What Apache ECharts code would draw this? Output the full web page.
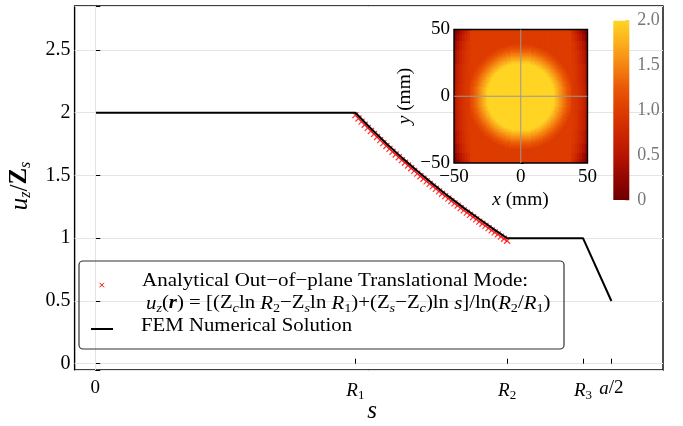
<!DOCTYPE html>
<html>
<head>
<meta charset="utf-8">
<script src="https://cdn.jsdelivr.net/npm/echarts@6/dist/echarts.min.js"></script>
<style>
  html, body { margin: 0; padding: 0; background: #fff; }
  #chart { width: 683px; height: 426px; }
</style>
</head>
<body>
<div id="chart"></div>
<script>
const SERIF = '"Liberation Serif", "DejaVu Serif", serif';

// Radial positions marked on the s axis (mm)
const sTickValues = [0, 25.2, 39.9, 47.25, 50];
const sTickLabels = ['{n|0}', '{i|R}{sub|1}', '{i|R}{sub|2}', '{i|R}{sub|3}', '{i|a}{n|/2}'];

// FEM numerical solution u_z/Z_s along s
const femS = [0, 25.2, 26.7, 28.2, 29.7, 31.2, 32.7, 34.2, 35.7, 37.2, 38.7, 39.9, 47.25, 50];
const femU = [2, 2, 1.874, 1.755, 1.642, 1.535, 1.433, 1.335, 1.242, 1.153, 1.066, 1.0, 1.0, 0.5];

// Analytical out-of-plane translational mode samples
const anaS = [25.2, 25.5, 25.8, 26.1, 26.4, 26.7, 27.0, 27.3, 27.6, 27.9, 28.2, 28.5, 28.8, 29.1, 29.4,
  29.7, 30.0, 30.3, 30.6, 30.9, 31.2, 31.5, 31.8, 32.1, 32.4, 32.7, 33.0, 33.3, 33.6, 33.9, 34.2, 34.5,
  34.8, 35.1, 35.4, 35.7, 36.0, 36.3, 36.6, 36.9, 37.2, 37.5, 37.8, 38.1, 38.4, 38.7, 39.0, 39.3, 39.6, 39.9];
const anaU = [1.980, 1.954, 1.929, 1.904, 1.879, 1.854, 1.830, 1.806, 1.782, 1.758, 1.735, 1.712, 1.689,
  1.667, 1.645, 1.622, 1.601, 1.579, 1.557, 1.536, 1.515, 1.494, 1.474, 1.453, 1.433, 1.413, 1.393, 1.373,
  1.354, 1.335, 1.315, 1.296, 1.278, 1.259, 1.240, 1.222, 1.204, 1.186, 1.168, 1.150, 1.132, 1.115, 1.098,
  1.080, 1.063, 1.046, 1.030, 1.013, 0.996, 0.980];

// Inset field: radial displacement profile (r in mm)
const ringR = [25, 26, 27, 28, 29, 30, 31, 32, 33, 34, 35, 36, 37, 38, 39, 40];
const ringU = [2.0, 1.932, 1.850, 1.771, 1.694, 1.621, 1.549, 1.480, 1.413, 1.348, 1.285, 1.224, 1.164, 1.106, 1.050, 1.0];

// Inset field: attenuation near the x = ±a/2 edges (rows: |y| bands, cols: |x| bands, upper bounds in mm)
const edgeXBins = [40, 42, 44, 46, 47.5, 49, 50];
const edgeYBins = [10, 25, 35, 42, 47, 50];
const edgeU = [
  [0.98, 0.94, 0.88, 0.80, 0.70, 0.56, 0.42],
  [0.97, 0.93, 0.86, 0.77, 0.66, 0.52, 0.37],
  [0.95, 0.90, 0.82, 0.71, 0.58, 0.43, 0.29],
  [0.92, 0.85, 0.75, 0.62, 0.48, 0.33, 0.20],
  [0.86, 0.77, 0.64, 0.50, 0.36, 0.22, 0.11],
  [0.80, 0.68, 0.54, 0.40, 0.26, 0.14, 0.05]
];

// Colour scale (value 0 → 2)
const heatColors = ['#6e0000', '#940600', '#b81600', '#cc2800', '#dd3c00', '#ea5806', '#f48412', '#fbae1c', '#ffd424'];

function ringLookup(r) {
  if (r <= ringR[0]) return ringU[0];
  if (r >= ringR[ringR.length - 1]) return ringU[ringU.length - 1];
  let best = 0;
  for (let i = 1; i < ringR.length; i++) {
    if (Math.abs(ringR[i] - r) < Math.abs(ringR[best] - r)) best = i;
  }
  return ringU[best];
}
function edgeLookup(ax, ay) {
  if (ax <= edgeXBins[0] - 2) return Infinity;
  let c = edgeXBins.findIndex(b => ax <= b);
  let r = edgeYBins.findIndex(b => ay <= b);
  if (c < 0) c = edgeXBins.length - 1;
  if (r < 0) r = edgeYBins.length - 1;
  return edgeU[r][c];
}

// cell table for the inset (1 mm cells)
const fieldCells = [];
for (let i = 0; i < 100; i++) {
  for (let j = 0; j < 100; j++) {
    const x = -49.5 + i, y = -49.5 + j;
    const r = Math.hypot(x, y);
    const u = Math.min(ringLookup(r), edgeLookup(Math.abs(x), Math.abs(y)));
    fieldCells.push([x, y, u]);
  }
}

const rich = {
  n: { fontFamily: SERIF, fontSize: 19, color: '#000', verticalAlign: 'middle' },
  i: { fontFamily: SERIF, fontSize: 19, fontStyle: 'italic', color: '#000', verticalAlign: 'middle' },
  bi: { fontFamily: SERIF, fontSize: 19, fontStyle: 'italic', fontWeight: 'bold', color: '#000', verticalAlign: 'middle' },
  b: { fontFamily: SERIF, fontSize: 19, fontWeight: 'bold', color: '#000', verticalAlign: 'middle' },
  sub: { fontFamily: SERIF, fontSize: 13, color: '#000', padding: [10, 0, 0, 0], verticalAlign: 'middle' },
  subi: { fontFamily: SERIF, fontSize: 13, fontStyle: 'italic', color: '#000', padding: [10, 0, 0, 0], verticalAlign: 'middle' }
};
const bigRich = {
  i: { fontFamily: SERIF, fontSize: 25, fontStyle: 'italic', color: '#000', verticalAlign: 'middle' },
  n: { fontFamily: SERIF, fontSize: 25, color: '#000', verticalAlign: 'middle' },
  b: { fontFamily: SERIF, fontSize: 25, fontWeight: 'bold', color: '#000', verticalAlign: 'middle' },
  sub: { fontFamily: SERIF, fontSize: 16, fontStyle: 'italic', color: '#000', padding: [12, 0, 0, 0], verticalAlign: 'middle' }
};

const sLabelMap = {};
sTickValues.forEach((v, k) => { sLabelMap[v] = sTickLabels[k]; });
const minus = v => String(v).replace('-', '\u2212');

const fieldRender = (params, api) => {
  const p = api.coord([api.value(0) - 0.5, api.value(1) + 0.5]);
  const sz = api.size([1, 1]);
  return { type: 'rect', shape: { x: p[0], y: p[1], width: sz[0] + 0.8, height: sz[1] + 0.8 },
    style: { fill: api.visual('color') } };
};

const barGradient = new echarts.graphic.LinearGradient(0, 0, 0, 1,
  heatColors.slice().reverse().map((c, k) => ({ offset: k / (heatColors.length - 1), color: c })));

const chart = echarts.init(document.getElementById('chart'), null, { renderer: 'canvas' });
chart.setOption({
  animation: false,
  backgroundColor: '#fff',
  grid: [
    { left: 74.6, right: 20, top: 6, bottom: 56, show: true, borderColor: '#000', borderWidth: 1.4,
      backgroundColor: 'transparent', containLabel: false },
    { left: 454, top: 29.5, width: 133.5, height: 133.5, show: true, borderColor: '#000', borderWidth: 1.4,
      backgroundColor: 'transparent', containLabel: false, z: 5 },
    { left: 613.3, top: 20.7, width: 16, height: 179.3, show: false, containLabel: false }
  ],
  xAxis: [
    { gridIndex: 0, type: 'value', min: -2, max: 55,
      axisLine: { show: false },
      axisTick: { show: true, inside: true, length: 5, customValues: sTickValues, lineStyle: { color: '#000', width: 1 } },
      axisLabel: { customValues: sTickValues, margin: 9, formatter: v => sLabelMap[v] || '', rich: rich },
      splitLine: { show: false } },
    { gridIndex: 1, type: 'value', min: -50, max: 50, interval: 50,
      axisLine: { show: false },
      axisTick: { show: true, inside: true, length: 3, lineStyle: { color: '#000' } },
      axisLabel: { margin: 5, fontFamily: SERIF, fontSize: 19, color: '#000', formatter: minus },
      splitLine: { show: false } },
    { gridIndex: 2, type: 'value', min: 0, max: 1, show: false }
  ],
  yAxis: [
    { gridIndex: 0, type: 'value', min: -0.05, max: 2.85, splitNumber: 6,
      axisLine: { show: false },
      axisTick: { show: true, inside: true, length: 5, lineStyle: { color: '#000' } },
      axisLabel: { margin: 4, fontFamily: SERIF, fontSize: 20, color: '#000',
        formatter: v => (Math.abs(v * 2 - Math.round(v * 2)) < 1e-6 ? String(v) : '') },
      splitLine: { show: true, lineStyle: { color: '#e4e4e4', width: 1 } } },
    { gridIndex: 1, type: 'value', min: -50, max: 50, interval: 50,
      axisLine: { show: false },
      axisTick: { show: true, inside: true, length: 3, lineStyle: { color: '#000' } },
      axisLabel: { margin: 4, fontFamily: SERIF, fontSize: 19, color: '#000', formatter: minus },
      splitLine: { show: false } },
    { gridIndex: 2, type: 'value', min: 0, max: 2, interval: 0.5, position: 'right',
      axisLine: { show: false, onZero: false },
      axisTick: { show: true, inside: true, length: 4, lineStyle: { color: '#f0c8b0' } },
      minorTick: { show: true, splitNumber: 5, length: 2, lineStyle: { color: '#f0d0bc' } },
      axisLabel: { margin: 8, fontFamily: SERIF, fontSize: 18, color: '#777',
        formatter: v => (v === 0 ? '0' : v.toFixed(1)) },
      splitLine: { show: false } }
  ],
  visualMap: [{
    type: 'continuous', show: false, min: 0, max: 2, dimension: 2, seriesIndex: [1],
    inRange: { color: heatColors }
  }],
  series: [
    { type: 'line', name: 'grid0', xAxisIndex: 0, yAxisIndex: 0, data: [[0, 2]], showSymbol: false, silent: true,
      markLine: { silent: true, symbol: 'none', label: { show: false },
        lineStyle: { color: '#e4e4e4', width: 1, type: 'solid' }, data: [{ xAxis: 0 }] } },
    { type: 'custom', name: 'field', xAxisIndex: 1, yAxisIndex: 1, data: fieldCells, clip: true,
      progressive: 0, renderItem: fieldRender, encode: { x: 0, y: 1 }, silent: true, z: 3 },
    { type: 'line', name: 'cbAxis', xAxisIndex: 2, yAxisIndex: 2, data: [], silent: true, z: 8 },
    { type: 'line', name: 'crossX', xAxisIndex: 1, yAxisIndex: 1, data: [[-50, 0], [50, 0]],
      showSymbol: false, silent: true, lineStyle: { color: '#999', width: 1 }, z: 6 },
    { type: 'line', name: 'crossY', xAxisIndex: 1, yAxisIndex: 1, data: [[0, -50], [0, 50]],
      showSymbol: false, silent: true, lineStyle: { color: '#999', width: 1 }, z: 6 },
    { type: 'scatter', name: 'Analytical', xAxisIndex: 0, yAxisIndex: 0,
      data: anaS.map((s, k) => [s, anaU[k]]),
      symbol: 'path://M0,0L10,10M10,0L0,10', symbolSize: 6,
      itemStyle: { color: 'none', borderColor: '#ff0000', borderWidth: 1.2 }, z: 2 },
    { type: 'line', name: 'FEM', xAxisIndex: 0, yAxisIndex: 0,
      data: femS.map((s, k) => [s, femU[k]]),
      showSymbol: false, lineStyle: { color: '#000', width: 2 }, z: 3 }
  ],
  graphic: [
    // colour bar
    { type: 'rect', shape: { x: 613.3, y: 20.7, width: 16, height: 179.3 }, style: { fill: barGradient }, z: 1 },
    // axis titles
    { type: 'text', x: 372, y: 411, style: { text: 's', font: 'italic 25px ' + SERIF, fill: '#000', align: 'center', verticalAlign: 'middle' } },
    { type: 'text', x: 20, y: 186, rotation: Math.PI / 2,
      style: { text: '{i|u}{sub|z}{n|/}{b|Z}{sub|s}', rich: bigRich, align: 'center', verticalAlign: 'middle' } },
    // inset titles
    { type: 'text', x: 520.5, y: 200, scaleX: 1.08, style: { text: '{i|x}{n| (mm)}', rich: {
      i: { fontFamily: SERIF, fontSize: 18, fontStyle: 'italic', color: '#000' },
      n: { fontFamily: SERIF, fontSize: 18, color: '#000' } }, align: 'center', verticalAlign: 'middle' } },
    { type: 'text', x: 405, y: 96, rotation: Math.PI / 2, scaleX: 1.08, style: { text: '{i|y}{n| (mm)}', rich: {
      i: { fontFamily: SERIF, fontSize: 18, fontStyle: 'italic', color: '#000' },
      n: { fontFamily: SERIF, fontSize: 18, color: '#000' } }, align: 'center', verticalAlign: 'middle' } },
    // legend
    { type: 'rect', shape: { x: 79, y: 261, width: 485, height: 88, r: 4 },
      style: { fill: 'none', stroke: '#333', lineWidth: 1.2 }, z: 10 },
    { type: 'line', shape: { x1: 99.5, y1: 282.8, x2: 104, y2: 287.3 }, style: { stroke: '#ff0000', lineWidth: 1 }, z: 10 },
    { type: 'line', shape: { x1: 104, y1: 282.8, x2: 99.5, y2: 287.3 }, style: { stroke: '#ff0000', lineWidth: 1 }, z: 10 },
    { type: 'line', shape: { x1: 91, y1: 329, x2: 113, y2: 329 }, style: { stroke: '#000', lineWidth: 2 }, z: 10 },
    { type: 'text', x: 142, y: 281.5, z: 10, scaleX: 1.105,
      style: { text: 'Analytical Out\u2212of\u2212plane Translational Mode:', font: '19px ' + SERIF, fill: '#000', verticalAlign: 'middle' } },
    { type: 'text', x: 146, y: 303.5, z: 10, scaleX: 1.095,
      style: { text: '{i|u}{subi|z}{n|(}{bi|r}{n|) = [(Z}{subi|c}{n|ln }{i|R}{sub|2}{n|\u2212Z}{subi|s}{n|ln }{i|R}{sub|1}{n|)+(Z}{subi|s}{n|\u2212Z}{subi|c}{n|)ln }{i|s}{n|]/ln(}{i|R}{sub|2}{n|/}{i|R}{sub|1}{n|)}',
        rich: rich, verticalAlign: 'middle' } },
    { type: 'text', x: 141, y: 326, z: 10, scaleX: 1.093,
      style: { text: 'FEM Numerical Solution', font: '19px ' + SERIF, fill: '#000', verticalAlign: 'middle' } }
  ]
});
</script>
</body>
</html>
